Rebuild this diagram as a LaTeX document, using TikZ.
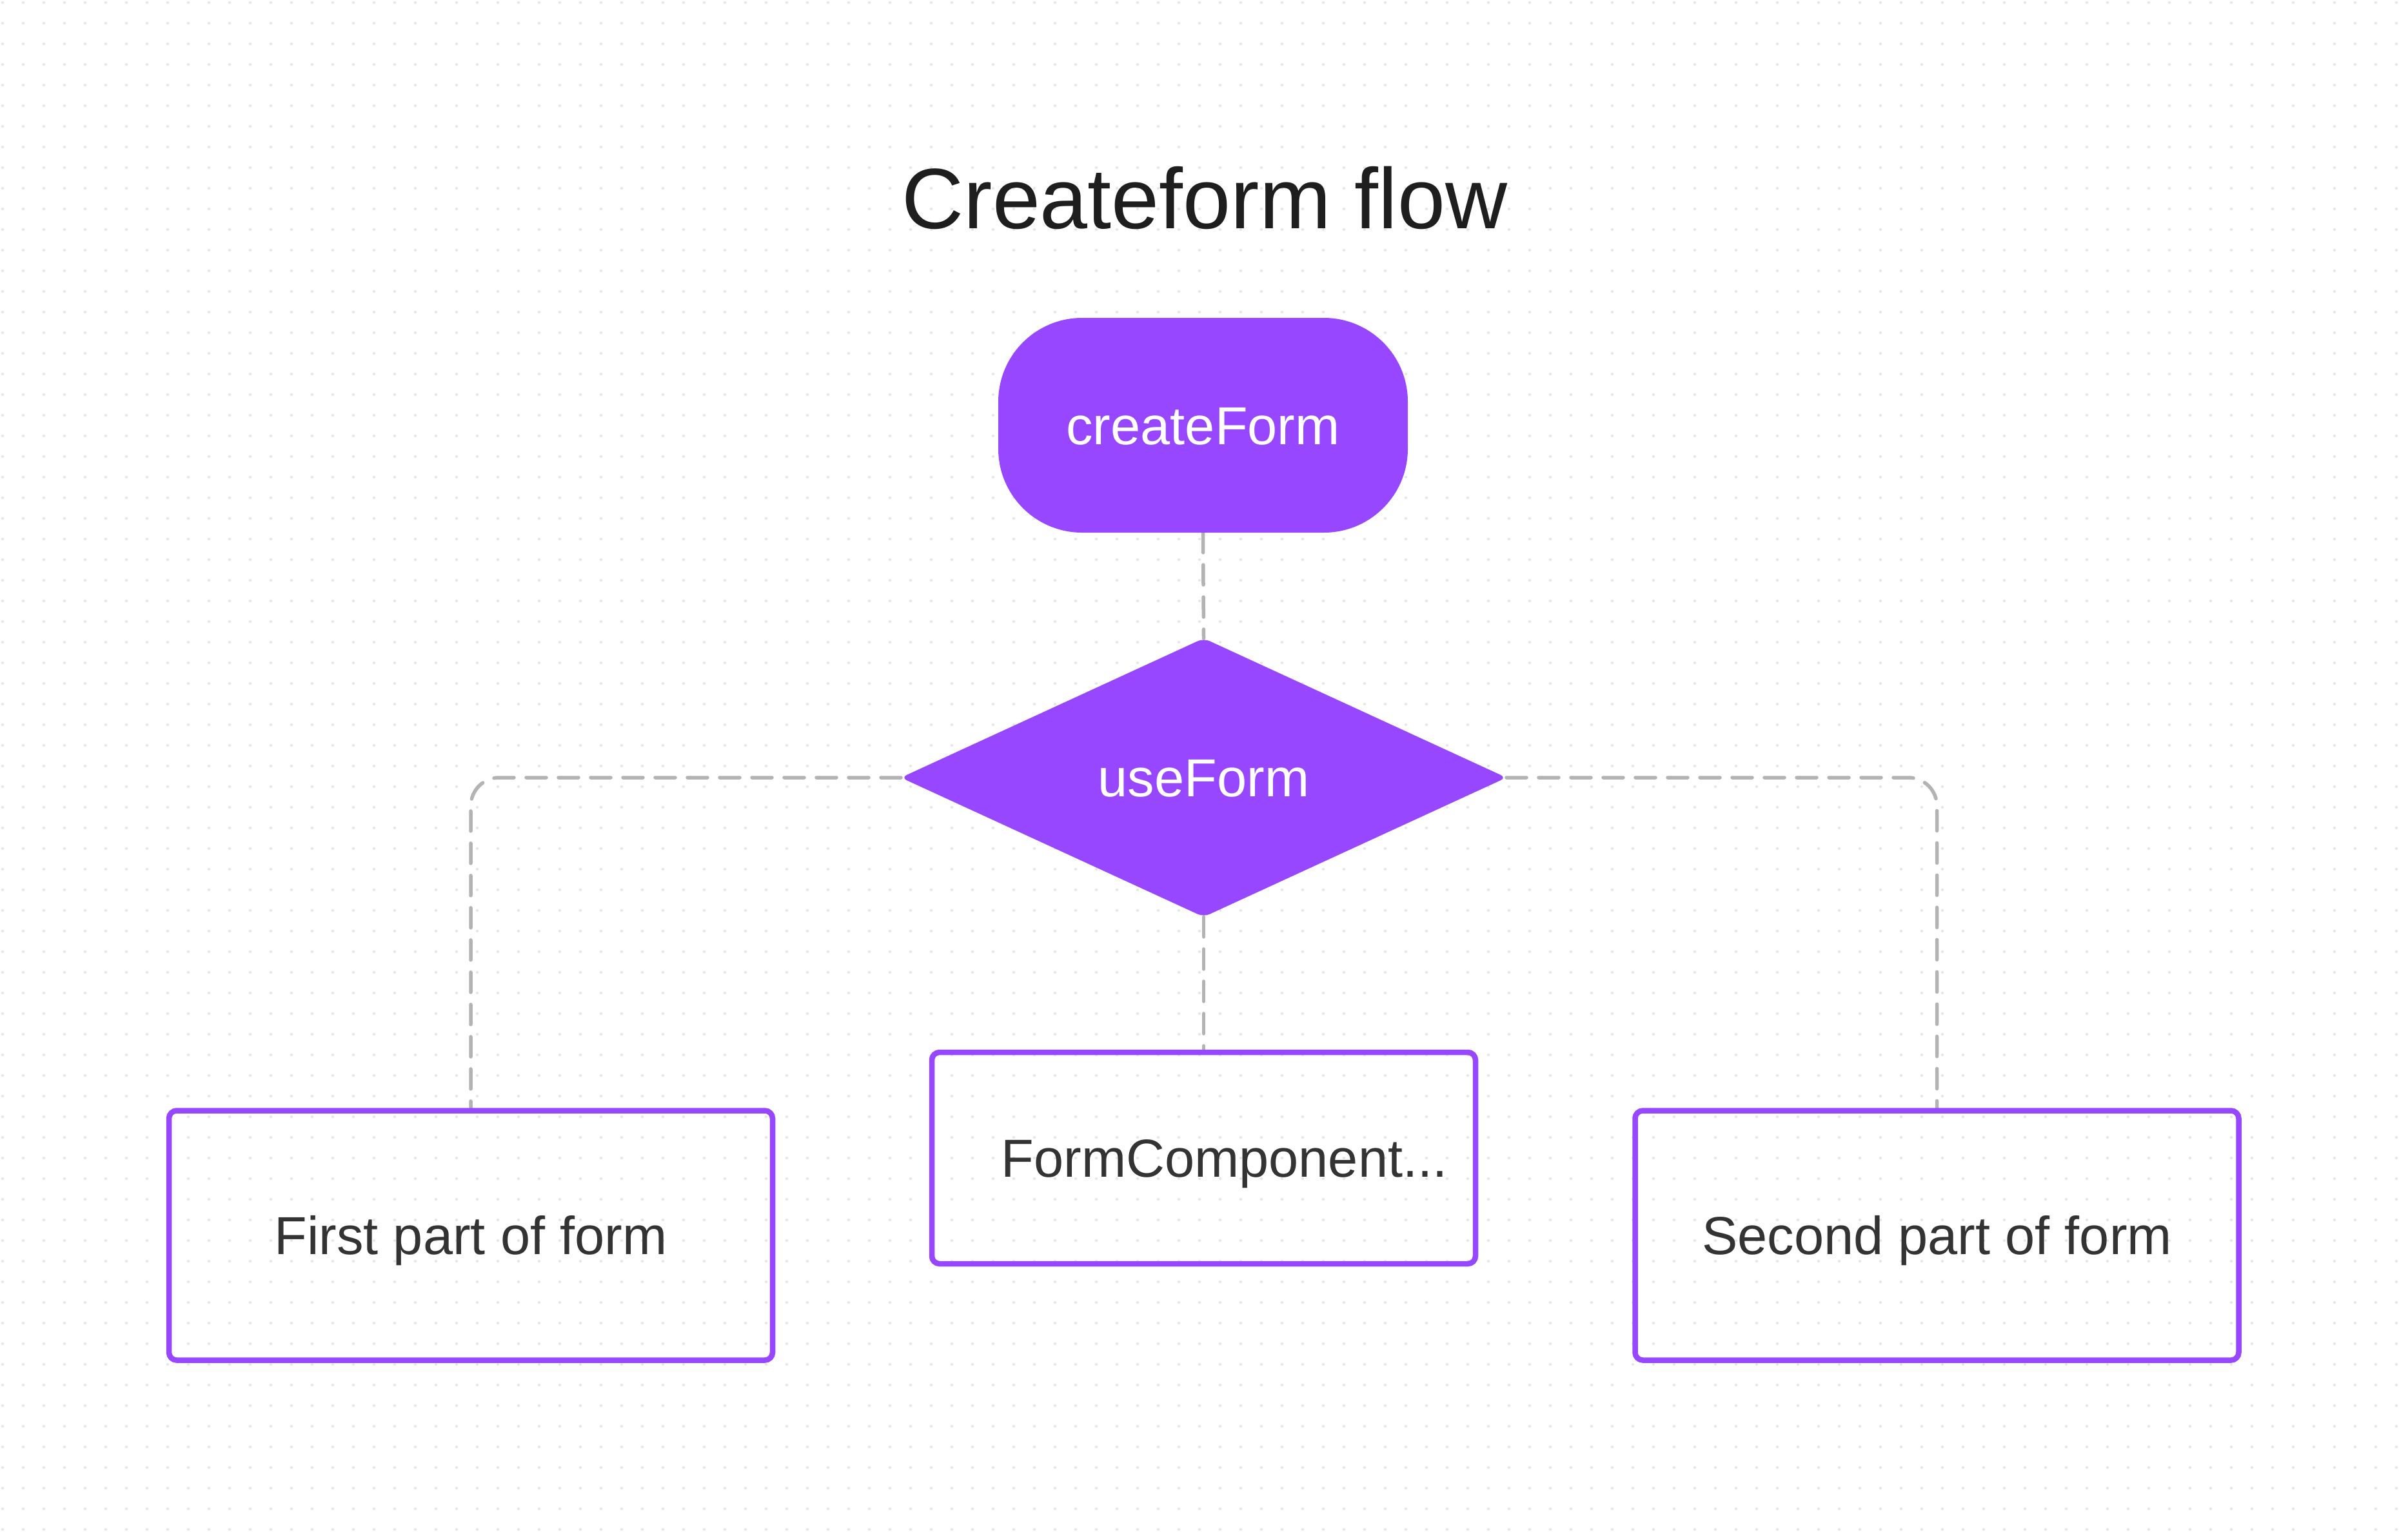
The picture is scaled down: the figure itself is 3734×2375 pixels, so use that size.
\documentclass[tikz,border=0pt]{standalone}
\usepackage{fontspec}
\setmainfont{Liberation Sans}
\usetikzlibrary{shapes.geometric}
\pgfdeclarelayer{dotlayer}
\pgfdeclarelayer{linklayer}
\pgfsetlayers{dotlayer,linklayer,main}
\definecolor{fpurple}{HTML}{9747FF}
\definecolor{flink}{HTML}{B3B3B3}
\definecolor{fdot}{HTML}{E6E6E6}
\definecolor{ftext}{HTML}{333333}
\definecolor{ftitle}{HTML}{1E1E1E}
\newcommand\figfont{\fontsize{83pt}{92pt}\selectfont}
\newcommand\figtitlefont{\fontsize{133pt}{150pt}\selectfont}
\begin{document}
\begin{tikzpicture}[x=1pt,y=-1pt,
  nodetext/.style={font=\figfont, inner sep=0pt, outer sep=0pt, text height=59pt, text depth=0pt},
  pill/.style={nodetext, rectangle, fill=fpurple, text=white, rounded corners=130pt,
    minimum width=635pt, minimum height=333pt},
  decision/.style={nodetext, diamond, fill=fpurple, text=white, rounded corners=10pt,
    aspect=2.17, minimum width=939pt, minimum height=432pt},
  partbox/.style={nodetext, rectangle, draw=fpurple, line width=8.5pt, text=ftext,
    rounded corners=12pt},
  plainlabel/.style={nodetext, text=ftext},
  link/.style={draw=flink, line width=5.5pt, line cap=round,
    dash pattern=on 31pt off 19pt, rounded corners=44pt},
  dotrow/.style={draw=fdot, line width=4.4pt, line cap=round,
    dash pattern=on 0.01pt off 31.99pt}
]
\useasboundingbox (0,0) rectangle (3734,2375);

\begin{pgfonlayer}{dotlayer}
  \fill[white] (0,0) rectangle (3734,2375);
  \foreach \j in {0,...,74}{
    \draw[dotrow] (4,{4+32*\j}) -- (3730,{4+32*\j});
  }
\end{pgfonlayer}

% title
\node[font=\figtitlefont, text=ftitle, anchor=base, inner sep=0pt] (title) at (1868,354) {Createform flow};

% nodes
\node[pill] (cf) at (1865.5,659.5) {createForm};
\node[decision] (uf) at (1866.5,1206) {useForm};
\node[partbox, minimum width=936pt, minimum height=387pt] (first) at (730,1916) {First part of form};
\node[partbox, minimum width=843pt, minimum height=328pt] (fc) at (1866.5,1796) {};
\node[plainlabel] (fclabel) at (1898.5,1796) {FormComponent...};
\node[partbox, minimum width=936pt, minimum height=387pt] (second) at (3003.5,1916) {Second part of form};

% connectors
\begin{pgfonlayer}{linklayer}
  \draw[link] (cf.south) -- (uf.north);
  \draw[link] (uf.west) -| (first.north);
  \draw[link] (uf.east) -| (second.north);
  \draw[link] (uf.south) -- (fc.north);
\end{pgfonlayer}
\end{tikzpicture}
\end{document}
